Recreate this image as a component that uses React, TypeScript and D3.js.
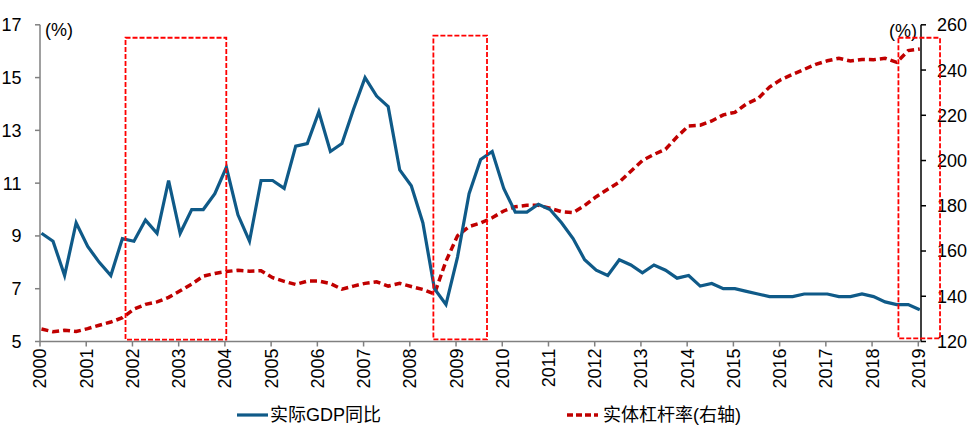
import React from 'react';
import * as d3 from 'd3';

const yearLabels = ['2000','2001','2002','2003','2004','2005','2006','2007','2008','2009','2010','2011','2012','2013','2014','2015','2016','2017','2018','2019'];

// Quarterly real GDP yoy (%), left axis
const gdpYoY = [
  9.1, 8.8, 7.5, 9.5,
  8.6, 8.0, 7.5, 8.9,
  8.8, 9.6, 9.1, 11.1,
  9.1, 10.0, 10.0, 10.6,
  11.6, 9.8, 8.8, 11.1,
  11.1, 10.8, 12.4, 12.5,
  13.7, 12.2, 12.5, 13.8,
  15.0, 14.3, 13.9, 11.5,
  10.9, 9.5, 7.0, 6.4,
  8.2, 10.6, 11.9, 12.2,
  10.8, 9.9, 9.9, 10.2,
  10.0, 9.5, 8.9, 8.1,
  7.7, 7.5, 8.1, 7.9,
  7.6, 7.9, 7.7, 7.4,
  7.5, 7.1, 7.2, 7.0,
  7.0, 6.9, 6.8, 6.7,
  6.7, 6.7, 6.8, 6.8,
  6.8, 6.7, 6.7, 6.8,
  6.7, 6.5, 6.4, 6.4,
  6.2,
];

// Quarterly real-economy leverage ratio (%), right axis
const leverage = [
  125.5, 124.3, 125.0, 124.4,
  125.7, 127.2, 128.6, 130.5,
  134.3, 136.4, 137.5, 139.5,
  142.4, 145.4, 148.9, 150.1,
  150.9, 151.5, 151.1, 151.3,
  148.2, 146.6, 145.2, 146.7,
  146.7, 145.6, 143.1, 144.5,
  145.7, 146.4, 144.5, 145.7,
  144.3, 143.0, 141.0, 155.5,
  166.7, 170.8, 172.4, 174.7,
  177.7, 179.6, 180.2, 180.2,
  178.9, 177.4, 177.0, 180.1,
  184.0, 187.3, 190.5, 195.3,
  200.0, 202.7, 205.0, 210.5,
  215.3, 215.6, 217.5, 220.2,
  221.3, 225.0, 227.4, 232.5,
  235.8, 238.1, 240.3, 242.5,
  244.1, 245.2, 244.0, 244.7,
  244.6, 245.2, 243.4, 248.6,
  249.3,
];

const leftTicks = [5, 7, 9, 11, 13, 15, 17];
const rightTicks = [120, 140, 160, 180, 200, 220, 240, 260];

// Highlighted periods (year units, left-axis units)
const highlightStart = [2001.85, 2008.51, 2018.57];
const highlightEnd = [2004.03, 2009.67, 2019.47];
const highlightTop = [16.51, 16.59, 16.51];
const highlightBottom = [5.07, 5.08, 5.12];

const seriesNames = ['实际GDP同比', '实体杠杆率(右轴)'];

const W = 971;
const H = 427;
const LEFT = 40;
const YEAR_END_X = 918.3;
const RIGHT_AXIS_X = 921;
const TOP = 24.8;
const BOTTOM = 341.5;
const Q_OFFSET = 0.032;

const BLUE = '#0F5A88';
const DARKRED = '#C00000';
const BOXRED = '#FF0000';
const NUM_FONT = '"Liberation Sans", Arial, sans-serif';
const CJK_FONT = '"Liberation Sans", "Noto Sans CJK SC", sans-serif';

export default function App() {
  const x = d3.scaleLinear().domain([2000, 2019]).range([LEFT, YEAR_END_X]);
  const yL = d3.scaleLinear().domain([5, 17]).range([BOTTOM, TOP]);
  const yR = d3.scaleLinear().domain([120, 260]).range([BOTTOM, TOP]);
  const qx = (i: number) => x(2000 + Q_OFFSET + i / 4);

  const gdpLine = d3.line<number>().x((_, i) => qx(i)).y((d) => yL(d))(gdpYoY) || '';
  const levLine = d3.line<number>().x((_, i) => qx(i)).y((d) => yR(d))(leverage) || '';

  return (
    <svg width={W} height={H} style={{ position: 'absolute', left: 0, top: 0, background: '#fff' }}>
      <rect x={0} y={0} width={W} height={H} fill="#fff" />
      {/* left axis */}
      <line x1={LEFT} x2={LEFT} y1={TOP} y2={BOTTOM} stroke="#808080" strokeWidth={1.5} />
      {leftTicks.map((t) => (
        <g key={'l' + t}>
          <line x1={LEFT - 5} x2={LEFT} y1={yL(t)} y2={yL(t)} stroke="#808080" strokeWidth={1.5} />
          <text x={21.5} y={yL(t)} dy="0.36em" textAnchor="end" fontSize={18} fontFamily={NUM_FONT} fill="#000">{t}</text>
        </g>
      ))}
      <text x={45} y={36} fontSize={18} fontFamily={NUM_FONT} fill="#000">(%)</text>
      {/* right axis */}
      <line x1={RIGHT_AXIS_X} x2={RIGHT_AXIS_X} y1={TOP} y2={BOTTOM} stroke="#000" strokeWidth={1.5} />
      {rightTicks.map((t) => (
        <g key={'r' + t}>
          <line x1={RIGHT_AXIS_X} x2={RIGHT_AXIS_X + 5} y1={yR(t)} y2={yR(t)} stroke="#000" strokeWidth={1.5} />
          <text x={937} y={yR(t)} dy="0.36em" textAnchor="start" fontSize={18} fontFamily={NUM_FONT} fill="#000">{t}</text>
        </g>
      ))}
      <text x={917} y={37} textAnchor="end" fontSize={18} fontFamily={NUM_FONT} fill="#000">(%)</text>
      {/* bottom axis */}
      <line x1={LEFT} x2={RIGHT_AXIS_X} y1={BOTTOM} y2={BOTTOM} stroke="#808080" strokeWidth={1.5} />
      {yearLabels.map((lab) => {
        const xx = x(+lab);
        return (
          <g key={lab}>
            <line x1={xx} x2={xx} y1={BOTTOM} y2={BOTTOM + 5} stroke="#808080" strokeWidth={1.5} />
            <text transform={`translate(${xx},${BOTTOM + 7}) rotate(-90)`} dy="0.36em" textAnchor="end" fontSize={18} fontFamily={NUM_FONT} fill="#000">{lab}</text>
          </g>
        );
      })}
      {/* series */}
      <path d={levLine} fill="none" stroke={DARKRED} strokeWidth={3.5} strokeDasharray="7,4" />
      <path d={gdpLine} fill="none" stroke={BLUE} strokeWidth={3.2} strokeLinejoin="miter" />
      {/* highlight boxes */}
      {highlightStart.map((s, k) => (
        <rect key={'h' + k} x={x(s)} y={yL(highlightTop[k])} width={x(highlightEnd[k]) - x(s)} height={yL(highlightBottom[k]) - yL(highlightTop[k])}
          fill="none" stroke={BOXRED} strokeWidth={1.8} strokeDasharray="5,2" />
      ))}
      {/* legend */}
      <line x1={237} x2={268} y1={415} y2={415} stroke={BLUE} strokeWidth={3.2} />
      <text x={270} y={415} dy="0.36em" fontSize={18} fontFamily={CJK_FONT} fill="#000">{seriesNames[0]}</text>
      <line x1={567} x2={598} y1={415} y2={415} stroke={DARKRED} strokeWidth={3.5} strokeDasharray="6,3" />
      <text x={603} y={415} dy="0.36em" fontSize={18} fontFamily={CJK_FONT} fill="#000">{seriesNames[1]}</text>
    </svg>
  );
}
